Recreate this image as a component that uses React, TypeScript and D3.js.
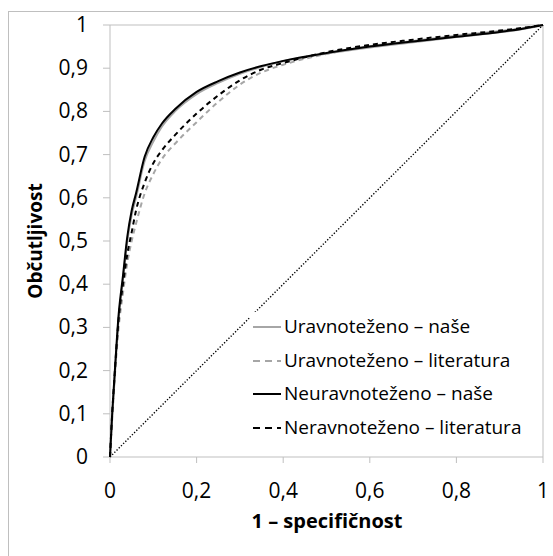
import React from "react";
import * as d3 from "d3";

// false positive rate (shared by all four curves)
const fpr = [0, 0.005, 0.01, 0.02, 0.03, 0.04, 0.05, 0.06, 0.08, 0.1, 0.12, 0.15, 0.2, 0.25, 0.3, 0.35, 0.4, 0.5, 0.6, 0.7, 0.8, 0.9, 0.95, 1];

const uravNase = [0, 0.09, 0.17, 0.32, 0.41, 0.5, 0.56, 0.6, 0.685, 0.73, 0.765, 0.8, 0.84, 0.866, 0.887, 0.903, 0.916, 0.934, 0.948, 0.96, 0.972, 0.983, 0.99, 1];
const uravLit = [0, 0.09, 0.17, 0.3, 0.38, 0.45, 0.5, 0.54, 0.61, 0.655, 0.69, 0.725, 0.775, 0.822, 0.862, 0.89, 0.908, 0.933, 0.951, 0.963, 0.975, 0.986, 0.992, 1];
const neuravNase = [0, 0.1, 0.18, 0.33, 0.42, 0.51, 0.57, 0.61, 0.695, 0.74, 0.772, 0.805, 0.845, 0.87, 0.89, 0.905, 0.917, 0.935, 0.95, 0.962, 0.973, 0.984, 0.991, 1];
const neravLit = [0, 0.1, 0.18, 0.32, 0.4, 0.47, 0.52, 0.57, 0.635, 0.68, 0.71, 0.745, 0.795, 0.837, 0.872, 0.897, 0.912, 0.937, 0.954, 0.966, 0.977, 0.987, 0.993, 1];

const seriesNames = ["Uravnoteženo – naše", "Uravnoteženo – literatura", "Neuravnoteženo – naše", "Neravnoteženo – literatura"];
const seriesValues = [uravNase, uravLit, neuravNase, neravLit];
const seriesColors = ["#a6a6a6", "#a6a6a6", "#000000", "#000000"];
const seriesDash = [null, "5,4", null, "5,4"];

const ticks = [0, 0.1, 0.2, 0.3, 0.4, 0.5, 0.6, 0.7, 0.8, 0.9, 1];
const xTicks = [0, 0.2, 0.4, 0.6, 0.8, 1];

const fmt = (v: number) => String(v).replace(".", ",");

export default function App() {
  const width = 553;
  const height = 556;
  const left = 110, right = 543, top = 25, bottom = 457;

  const x = d3.scaleLinear().domain([0, 1]).range([left, right]);
  const y = d3.scaleLinear().domain([0, 1]).range([bottom, top]);

  const line = d3
    .line<number>()
    .x((d, i) => x(fpr[i]))
    .y((d) => y(d))
    .curve(d3.curveMonotoneX);

  const font = "'Open Sans', sans-serif";
  const legendY = [327, 361, 394, 428];

  return (
    <svg
      width={width}
      height={height}
      style={{ position: "absolute", left: 0, top: 0, background: "#fff" }}
      fontFamily={font}
    >
      <rect x={8.5} y={11.5} width={600} height={600} fill="none" stroke="#bfbfbf" />
      {/* plot border */}
      <line x1={left} x2={right} y1={top} y2={top} stroke="#bfbfbf" />
      <line x1={right} x2={right} y1={top} y2={bottom} stroke="#bfbfbf" />
      <line x1={left} x2={left} y1={top} y2={bottom} stroke="#bfbfbf" />
      <line x1={left} x2={right} y1={bottom} y2={bottom} stroke="#bfbfbf" />

      {ticks.map((t) => (
        <g key={"y" + t}>
          <line x1={left - 7} x2={left} y1={y(t)} y2={y(t)} stroke="#bfbfbf" />
          <text x={88} y={y(t) + 7} textAnchor="end" fontSize={21} fill="#000">
            {fmt(t)}
          </text>
        </g>
      ))}
      {xTicks.map((t) => (
        <g key={"x" + t}>
          <line x1={x(t)} x2={x(t)} y1={bottom} y2={bottom + 6} stroke="#bfbfbf" />
          <text x={x(t)} y={498} textAnchor="middle" fontSize={21} fill="#000">
            {fmt(t)}
          </text>
        </g>
      ))}

      {/* diagonal reference */}
      <line
        x1={x(0)}
        y1={y(0)}
        x2={x(1)}
        y2={y(1)}
        stroke="#000"
        strokeWidth={1.4}
        strokeDasharray="1.3,1.8"
      />

      {seriesValues.map((vals, i) => (
        <path
          key={seriesNames[i]}
          d={line(vals) || ""}
          fill="none"
          stroke={seriesColors[i]}
          strokeWidth={2}
          strokeDasharray={seriesDash[i] || undefined}
        />
      ))}

      {/* legend */}
      <rect x={250} y={312} width={290} height={132} fill="#fff" />
      {seriesNames.map((name, i) => (
        <g key={"l" + i}>
          <line
            x1={253}
            x2={281}
            y1={legendY[i]}
            y2={legendY[i]}
            stroke={seriesColors[i]}
            strokeWidth={2}
            strokeDasharray={seriesDash[i] ? "7,5" : undefined}
          />
          <text x={284} y={legendY[i] + 6} fontSize={19} fill="#000">
            {name}
          </text>
        </g>
      ))}

      <text
        transform={`translate(42, ${(top + bottom) / 2}) rotate(-90)`}
        textAnchor="middle"
        fontSize={19}
        fontWeight="bold"
      >
        Občutljivost
      </text>
      <text x={327} y={528} textAnchor="middle" fontSize={20} fontWeight="bold">
        1 – specifičnost
      </text>
    </svg>
  );
}
